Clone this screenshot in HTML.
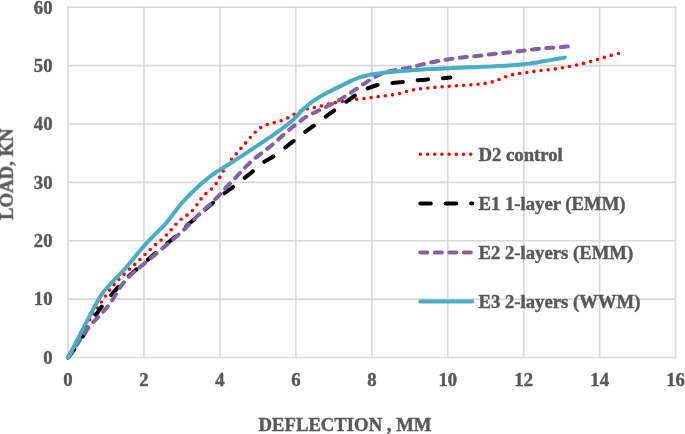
<!DOCTYPE html>
<html><head><meta charset="utf-8"><style>
html,body{margin:0;padding:0;background:#fff;}
svg{display:block;}
text{font-family:"Liberation Serif",serif;font-weight:bold;fill:#595959;stroke:#595959;stroke-width:0.45px;}
</style></head><body>
<svg width="685" height="434" viewBox="0 0 685 434">
<defs><filter id="bl" x="-5%" y="-20%" width="110%" height="140%"><feGaussianBlur stdDeviation="0.3"/></filter></defs>
<rect width="685" height="434" fill="#fff"/>
<g stroke="#d9d9d9" stroke-width="1.6" fill="none">
<line x1="67.25" y1="357.50" x2="676.35" y2="357.50"/>
<line x1="67.25" y1="299.13" x2="676.35" y2="299.13"/>
<line x1="67.25" y1="240.77" x2="676.35" y2="240.77"/>
<line x1="67.25" y1="182.40" x2="676.35" y2="182.40"/>
<line x1="67.25" y1="124.03" x2="676.35" y2="124.03"/>
<line x1="67.25" y1="65.67" x2="676.35" y2="65.67"/>
<line x1="67.25" y1="7.30" x2="676.35" y2="7.30"/>
<line x1="68.00" y1="6.55" x2="68.00" y2="358.25"/>
<line x1="143.95" y1="6.55" x2="143.95" y2="358.25"/>
<line x1="219.90" y1="6.55" x2="219.90" y2="358.25"/>
<line x1="295.85" y1="6.55" x2="295.85" y2="358.25"/>
<line x1="371.80" y1="6.55" x2="371.80" y2="358.25"/>
<line x1="447.75" y1="6.55" x2="447.75" y2="358.25"/>
<line x1="523.70" y1="6.55" x2="523.70" y2="358.25"/>
<line x1="599.65" y1="6.55" x2="599.65" y2="358.25"/>
<line x1="675.60" y1="6.55" x2="675.60" y2="358.25"/>
</g>
<g font-size="18.7" filter="url(#bl)">
<text x="52.5" y="363.80" text-anchor="end">0</text>
<text x="52.5" y="305.43" text-anchor="end">10</text>
<text x="52.5" y="247.07" text-anchor="end">20</text>
<text x="52.5" y="188.70" text-anchor="end">30</text>
<text x="52.5" y="130.33" text-anchor="end">40</text>
<text x="52.5" y="71.97" text-anchor="end">50</text>
<text x="52.5" y="13.60" text-anchor="end">60</text>
<text x="68.00" y="385.5" text-anchor="middle">0</text>
<text x="143.95" y="385.5" text-anchor="middle">2</text>
<text x="219.90" y="385.5" text-anchor="middle">4</text>
<text x="295.85" y="385.5" text-anchor="middle">6</text>
<text x="371.80" y="385.5" text-anchor="middle">8</text>
<text x="447.75" y="385.5" text-anchor="middle">10</text>
<text x="523.70" y="385.5" text-anchor="middle">12</text>
<text x="599.65" y="385.5" text-anchor="middle">14</text>
<text x="675.60" y="385.5" text-anchor="middle">16</text>
</g>
<g fill="none" stroke-linecap="round" stroke-linejoin="round">
<path d="M68.0,357.5 C69.0,355.9 71.8,351.3 73.9,347.8 C76.0,344.3 78.2,340.3 80.3,336.4 C82.5,332.6 85.0,328.1 87.1,324.4 C89.1,320.8 91.1,317.5 92.7,314.7 C94.4,311.9 95.8,309.9 97.2,307.8 C98.7,305.6 100.0,303.7 101.4,301.8 C102.8,299.8 104.1,297.8 105.5,295.9 C106.9,293.9 108.2,292.0 109.7,290.0 C111.2,288.0 112.8,286.1 114.7,283.9 C116.6,281.7 118.9,279.3 121.2,277.0 C123.5,274.7 126.2,272.2 128.4,270.1 C130.7,267.9 132.8,266.1 134.8,264.3 C136.7,262.5 138.4,260.9 140.1,259.2 C141.9,257.5 143.6,255.8 145.3,254.2 C147.1,252.5 148.8,250.7 150.6,249.1 C152.4,247.4 154.2,245.8 156.0,244.2 C157.8,242.7 159.6,241.3 161.4,239.7 C163.1,238.2 164.8,236.6 166.5,234.9 C168.2,233.3 169.7,231.4 171.3,229.6 C172.8,227.8 174.3,225.9 176.0,224.2 C177.6,222.5 179.3,220.8 181.1,219.3 C183.0,217.8 185.1,216.6 187.0,215.1 C188.9,213.6 190.8,212.1 192.5,210.4 C194.1,208.7 195.5,206.7 196.9,204.8 C198.3,202.8 199.5,200.7 201.0,198.9 C202.4,197.0 204.0,195.4 205.7,193.8 C207.3,192.3 209.3,191.1 211.0,189.5 C212.7,188.0 214.2,186.3 215.6,184.4 C217.0,182.5 218.0,180.4 219.2,178.3 C220.4,176.2 221.5,174.1 222.7,171.9 C224.0,169.8 225.3,167.6 226.8,165.5 C228.2,163.4 229.8,161.5 231.4,159.6 C232.9,157.7 234.6,155.9 236.1,154.1 C237.6,152.3 239.1,150.6 240.6,148.8 C242.1,147.0 243.5,145.2 245.1,143.4 C246.6,141.6 248.2,139.8 249.9,138.0 C251.5,136.2 253.0,134.4 254.7,132.7 C256.4,131.1 258.1,129.4 260.0,128.1 C261.9,126.8 264.1,125.7 266.3,124.8 C268.6,123.9 271.0,123.5 273.4,122.8 C275.8,122.2 278.1,121.8 280.4,121.0 C282.8,120.2 285.0,119.2 287.2,118.2 C289.4,117.1 291.4,115.7 293.5,114.6 C295.6,113.5 297.6,112.2 299.8,111.3 C302.0,110.4 304.4,109.7 306.7,109.0 C309.1,108.4 311.6,108.0 314.0,107.5 C316.3,107.0 318.6,106.5 320.9,106.0 C323.2,105.5 325.3,104.9 327.6,104.3 C329.9,103.8 332.2,103.3 334.6,102.8 C336.9,102.4 339.3,101.9 341.8,101.5 C344.2,101.1 346.6,100.7 349.1,100.3 C351.5,100.0 354.0,99.6 356.4,99.3 C358.9,99.0 361.4,98.8 363.8,98.5 C366.3,98.2 368.8,97.9 371.2,97.6 C373.6,97.2 376.1,96.9 378.5,96.6 C380.9,96.3 383.3,96.0 385.7,95.7 C388.0,95.4 390.4,95.1 392.8,94.8 C395.1,94.4 397.5,93.9 399.8,93.4 C402.1,92.8 404.4,92.1 406.8,91.5 C409.1,90.9 411.4,90.2 413.8,89.8 C416.1,89.3 418.6,89.0 420.9,88.7 C423.3,88.4 425.8,88.2 428.1,88.0 C430.5,87.8 432.8,87.6 435.1,87.4 C437.5,87.2 439.8,87.0 442.1,86.8 C444.5,86.6 446.9,86.4 449.2,86.3 C451.6,86.1 454.1,85.9 456.5,85.8 C459.0,85.6 461.4,85.5 463.9,85.3 C466.4,85.2 468.9,85.0 471.3,84.8 C473.8,84.6 476.2,84.4 478.6,84.2 C481.0,83.9 483.4,83.7 485.8,83.3 C488.2,82.9 490.6,82.4 492.9,81.7 C495.2,81.0 497.4,80.1 499.6,79.2 C501.8,78.3 504.0,77.3 506.2,76.5 C508.5,75.7 510.8,75.1 513.1,74.5 C515.5,74.0 517.8,73.8 520.2,73.5 C522.6,73.1 525.1,72.8 527.5,72.4 C529.9,72.1 532.4,71.6 534.8,71.3 C537.1,71.0 539.5,70.7 541.9,70.4 C544.2,70.1 546.6,70.0 549.0,69.7 C551.4,69.4 553.8,69.1 556.2,68.8 C558.6,68.4 561.0,68.0 563.4,67.6 C565.8,67.2 568.2,66.8 570.5,66.3 C572.9,65.8 575.2,65.3 577.6,64.8 C580.0,64.2 582.3,63.7 584.7,63.1 C587.0,62.5 589.4,61.8 591.7,61.1 C594.1,60.5 596.4,59.8 598.7,59.1 C601.0,58.4 603.3,57.7 605.6,57.0 C608.0,56.3 610.3,55.6 612.7,55.0 C615.0,54.3 618.5,53.5 619.7,53.2" stroke="#ff0000" stroke-width="3.6" stroke-dasharray="0 7.2"/>
<path d="M68.0,357.5 C68.5,356.8 70.0,355.3 71.3,353.5 C72.6,351.7 74.1,349.7 76.0,346.9 C78.0,344.1 80.5,340.1 82.7,336.4 C84.9,332.8 87.4,328.5 89.5,325.1 C91.5,321.8 93.2,319.0 94.9,316.4 C96.6,313.7 98.1,311.6 99.8,309.2 C101.5,306.9 103.2,304.6 105.2,302.2 C107.1,299.8 109.1,297.4 111.3,294.9 C113.5,292.4 115.8,289.7 118.1,287.1 C120.4,284.5 123.0,281.7 125.3,279.3 C127.7,277.0 130.2,274.7 132.3,272.9 C134.4,271.0 136.2,269.8 137.9,268.3 C139.7,266.8 141.2,265.6 142.9,264.1 C144.7,262.6 146.4,261.0 148.3,259.3 C150.2,257.7 152.2,256.0 154.2,254.2 C156.2,252.4 158.3,250.5 160.4,248.8 C162.5,247.0 164.7,245.3 166.9,243.6 C169.0,241.9 171.1,240.3 173.2,238.4 C175.4,236.5 177.6,234.3 179.9,232.2 C182.2,230.1 184.6,227.7 186.9,225.7 C189.1,223.6 191.4,221.8 193.5,220.1 C195.5,218.3 197.1,216.7 199.1,214.9 C201.0,213.1 203.0,211.3 205.2,209.4 C207.4,207.4 210.1,205.3 212.3,203.5 C214.5,201.6 216.2,200.0 218.3,198.2 C220.3,196.5 222.4,194.8 224.7,193.0 C227.1,191.2 230.1,189.1 232.5,187.3 C234.9,185.5 236.8,184.0 238.9,182.3 C241.1,180.6 243.0,179.1 245.3,177.3 C247.6,175.5 250.5,173.3 252.7,171.4 C254.9,169.6 256.6,167.8 258.6,166.1 C260.6,164.4 262.5,163.0 264.9,161.4 C267.3,159.9 270.5,158.3 272.9,156.8 C275.3,155.3 277.3,153.9 279.5,152.3 C281.6,150.7 283.5,149.0 285.8,147.1 C288.1,145.3 291.1,143.0 293.5,141.2 C295.8,139.3 297.8,137.7 299.9,136.1 C302.0,134.4 303.7,133.0 306.0,131.3 C308.2,129.6 311.0,127.6 313.3,125.9 C315.6,124.2 317.6,122.7 319.8,121.1 C322.0,119.5 324.1,118.0 326.4,116.2 C328.8,114.5 331.7,112.4 333.9,110.7 C336.2,109.0 338.1,107.6 340.2,106.1 C342.3,104.5 344.2,103.1 346.6,101.5 C349.0,99.8 352.0,97.6 354.4,96.0 C356.8,94.3 358.7,92.9 361.0,91.6 C363.3,90.3 365.5,89.2 368.2,88.1 C370.9,87.0 374.4,85.8 377.2,85.0 C380.0,84.3 382.3,83.9 384.9,83.5 C387.4,83.2 389.8,83.1 392.6,82.9 C395.5,82.6 399.2,82.3 402.1,82.0 C405.0,81.7 407.3,81.4 409.9,81.0 C412.6,80.7 414.9,80.4 417.8,80.2 C420.8,79.9 424.6,79.6 427.6,79.4 C430.7,79.2 433.4,79.0 435.9,78.8 C438.4,78.6 440.2,78.5 442.6,78.2 C445.1,78.0 449.1,77.7 450.4,77.6" stroke="#000" stroke-width="4" stroke-dasharray="10.5 14.9"/>
<path d="M68.0,357.5 C68.7,356.5 70.7,353.8 72.2,351.8 C73.6,349.7 75.0,347.6 76.5,345.3 C78.1,343.0 79.6,340.4 81.2,338.0 C82.8,335.6 84.4,333.1 86.0,330.9 C87.5,328.8 89.0,327.0 90.6,325.1 C92.2,323.3 93.7,321.7 95.5,319.9 C97.2,318.0 99.2,316.1 101.2,314.0 C103.1,311.9 105.3,309.5 107.2,307.1 C109.1,304.8 110.9,302.2 112.5,299.9 C114.0,297.5 115.3,295.3 116.6,293.1 C117.9,290.9 119.2,288.8 120.5,286.9 C121.9,284.9 123.2,283.3 124.7,281.5 C126.2,279.8 127.8,278.1 129.5,276.4 C131.2,274.7 133.2,272.8 135.0,271.2 C136.8,269.6 138.6,268.2 140.3,266.8 C142.0,265.4 143.5,264.2 145.1,262.9 C146.8,261.6 148.4,260.3 150.2,258.8 C152.0,257.3 154.2,255.4 156.2,253.7 C158.2,252.0 160.5,250.0 162.5,248.3 C164.5,246.7 166.4,245.1 168.2,243.6 C170.0,242.0 171.7,240.6 173.5,239.1 C175.3,237.5 177.1,236.1 178.9,234.4 C180.7,232.7 182.6,231.0 184.6,229.0 C186.6,227.0 188.9,224.5 191.2,222.2 C193.4,219.9 195.9,217.5 198.1,215.4 C200.4,213.2 202.4,211.4 204.8,209.2 C207.1,207.0 209.8,204.6 212.2,202.2 C214.7,199.8 217.4,197.1 219.6,194.8 C221.7,192.5 223.4,190.5 225.1,188.7 C226.9,186.8 228.4,185.2 230.1,183.4 C231.7,181.7 233.4,180.0 235.1,178.2 C236.8,176.4 238.5,174.6 240.2,172.8 C241.9,170.9 243.7,168.9 245.4,167.2 C247.2,165.4 248.9,163.6 250.6,162.0 C252.4,160.4 254.1,159.0 255.9,157.6 C257.7,156.1 259.6,154.7 261.5,153.3 C263.3,151.9 265.2,150.5 267.0,149.0 C268.9,147.6 270.7,146.1 272.6,144.5 C274.4,143.0 276.2,141.4 278.1,139.7 C279.9,138.1 281.8,136.3 283.7,134.6 C285.5,133.0 287.2,131.5 289.0,130.0 C290.8,128.4 292.6,127.0 294.5,125.5 C296.4,124.0 298.5,122.3 300.5,120.8 C302.5,119.4 304.4,117.9 306.5,116.7 C308.6,115.4 310.8,114.4 313.0,113.2 C315.2,112.1 317.4,111.1 319.7,110.0 C321.9,108.9 324.1,107.8 326.4,106.7 C328.6,105.5 330.9,104.4 333.0,103.3 C335.2,102.2 337.2,101.2 339.2,100.0 C341.3,98.8 343.4,97.5 345.5,96.2 C347.5,94.9 349.6,93.4 351.6,92.1 C353.5,90.8 355.2,89.6 357.1,88.3 C359.1,87.0 361.0,85.8 363.0,84.4 C365.1,83.1 367.3,81.6 369.4,80.3 C371.5,79.0 373.5,77.8 375.6,76.7 C377.7,75.5 379.6,74.5 381.8,73.7 C384.0,72.8 386.4,72.0 388.7,71.4 C391.1,70.8 393.6,70.4 396.1,69.9 C398.5,69.5 401.0,69.0 403.4,68.6 C405.9,68.2 408.3,67.7 410.6,67.2 C413.0,66.8 415.2,66.2 417.5,65.6 C419.9,65.1 422.3,64.4 424.7,63.8 C427.0,63.3 429.5,62.7 431.8,62.2 C434.1,61.8 436.2,61.4 438.5,60.9 C440.7,60.5 442.9,60.2 445.2,59.8 C447.5,59.4 449.9,59.1 452.3,58.7 C454.7,58.4 457.1,58.0 459.6,57.7 C462.1,57.4 464.7,57.1 467.3,56.9 C469.8,56.6 472.4,56.4 474.9,56.2 C477.3,55.9 479.6,55.7 482.0,55.4 C484.4,55.1 486.8,54.8 489.2,54.5 C491.6,54.2 494.2,53.9 496.6,53.6 C499.0,53.4 501.3,53.1 503.7,52.9 C506.1,52.6 508.3,52.4 510.7,52.1 C513.1,51.9 515.6,51.6 518.1,51.3 C520.6,51.0 523.2,50.7 525.6,50.4 C528.1,50.1 530.5,49.8 532.8,49.5 C535.1,49.2 537.4,48.9 539.7,48.7 C542.0,48.4 544.4,48.2 546.8,48.0 C549.3,47.9 551.8,47.7 554.2,47.6 C556.7,47.4 559.0,47.2 561.5,47.1 C564.0,46.9 568.1,46.5 569.4,46.4" stroke="#8064a2" stroke-width="4" stroke-dasharray="7.1 7.4"/>
<path d="M68.0,357.5 C68.7,356.2 70.7,352.5 72.0,349.9 C73.3,347.4 74.7,344.9 76.0,342.3 C77.3,339.7 78.7,337.2 80.0,334.6 C81.3,332.0 82.7,329.5 84.0,326.9 C85.3,324.3 86.7,321.8 88.0,319.2 C89.3,316.7 90.7,314.1 92.0,311.6 C93.3,309.1 94.6,306.6 95.9,304.3 C97.1,302.0 98.3,299.8 99.5,297.8 C100.7,295.8 101.9,294.1 103.1,292.4 C104.4,290.7 105.7,289.2 107.0,287.7 C108.3,286.2 109.7,284.8 111.0,283.4 C112.3,281.9 113.7,280.6 115.0,279.2 C116.3,277.9 117.6,276.6 118.8,275.3 C120.0,274.0 121.2,272.8 122.3,271.5 C123.5,270.2 124.7,268.9 125.9,267.6 C127.1,266.2 128.3,264.8 129.5,263.4 C130.7,262.0 131.9,260.5 133.1,259.0 C134.3,257.5 135.6,256.0 136.8,254.4 C138.1,252.9 139.2,251.6 140.6,250.0 C142.0,248.4 143.3,246.8 145.2,244.7 C147.0,242.7 149.3,240.1 151.6,237.8 C153.9,235.4 156.5,232.9 158.8,230.6 C161.1,228.3 163.2,226.3 165.3,224.0 C167.3,221.7 169.2,219.3 171.1,216.8 C173.0,214.4 174.8,211.7 176.6,209.4 C178.4,207.0 180.3,204.8 182.1,202.7 C183.9,200.6 185.8,198.8 187.6,196.9 C189.5,195.0 191.3,193.1 193.2,191.3 C195.0,189.5 196.9,187.7 198.7,186.0 C200.5,184.3 202.4,182.8 204.2,181.2 C206.1,179.7 207.9,178.1 209.8,176.7 C211.6,175.3 213.3,174.0 215.3,172.7 C217.3,171.4 219.2,170.3 221.5,168.8 C223.9,167.4 226.6,165.8 229.4,164.0 C232.2,162.2 235.4,160.2 238.4,158.2 C241.4,156.2 244.5,154.1 247.6,152.1 C250.7,150.0 253.8,148.0 256.9,145.9 C260.0,143.9 263.0,141.9 266.1,139.8 C269.2,137.8 272.3,135.6 275.3,133.5 C278.3,131.4 281.4,129.3 284.0,127.2 C286.7,125.2 289.2,123.4 291.3,121.5 C293.5,119.5 295.1,117.8 297.0,115.8 C298.9,113.9 300.6,111.8 302.7,109.8 C304.8,107.8 307.1,105.7 309.5,103.7 C311.9,101.8 314.6,100.0 317.4,98.3 C320.1,96.5 323.1,94.9 326.1,93.3 C329.1,91.7 332.2,90.1 335.3,88.6 C338.4,87.1 341.6,85.5 344.5,84.1 C347.4,82.6 350.5,81.2 353.0,80.0 C355.5,78.9 357.5,78.1 359.6,77.4 C361.7,76.7 363.2,76.2 365.4,75.7 C367.5,75.2 369.9,74.7 372.6,74.2 C375.2,73.8 378.2,73.3 381.3,72.9 C384.4,72.5 387.6,72.2 391.0,71.9 C394.4,71.6 397.8,71.3 401.6,71.0 C405.5,70.7 409.4,70.4 414.2,70.1 C419.1,69.8 424.9,69.5 430.6,69.1 C436.2,68.8 442.7,68.5 448.3,68.2 C453.9,68.0 459.2,67.8 464.3,67.5 C469.4,67.3 474.0,67.1 479.0,66.9 C484.0,66.7 489.2,66.5 494.1,66.2 C499.1,66.0 504.2,65.8 508.7,65.5 C513.2,65.2 517.2,64.9 521.1,64.5 C525.0,64.1 528.4,63.7 532.1,63.1 C535.8,62.6 539.5,61.9 543.2,61.3 C546.8,60.7 550.5,60.0 554.1,59.4 C557.7,58.8 563.0,57.9 564.8,57.6" stroke="#4bacc6" stroke-width="4"/>
</g>
<g fill="none" stroke-linecap="round">
<line x1="420.3" y1="154.3" x2="472.3" y2="154.3" stroke="#ff0000" stroke-width="3.6" stroke-dasharray="0 7.2"/>
<line x1="420.3" y1="203.4" x2="472.3" y2="203.4" stroke="#000000" stroke-width="4" stroke-dasharray="10.5 14.9"/>
<line x1="420.3" y1="252.4" x2="472.3" y2="252.4" stroke="#8064a2" stroke-width="4" stroke-dasharray="7.1 7.4"/>
<line x1="420.3" y1="301.6" x2="472.3" y2="301.6" stroke="#4bacc6" stroke-width="4"/>
</g>
<g font-size="18.7" filter="url(#bl)">
<text x="478.5" y="160.6">D2 control</text>
<text x="478.5" y="209.7">E1 1-layer (EMM)</text>
<text x="478.5" y="258.7">E2 2-layers (EMM)</text>
<text x="478.5" y="307.9">E3 2-layers (WWM)</text>
<text x="345" y="430.5" text-anchor="middle">DEFLECTION , MM</text>
<text transform="translate(12.8,174.2) rotate(-90)" text-anchor="middle">LOAD, KN</text>
</g>
</svg>
</body></html>
